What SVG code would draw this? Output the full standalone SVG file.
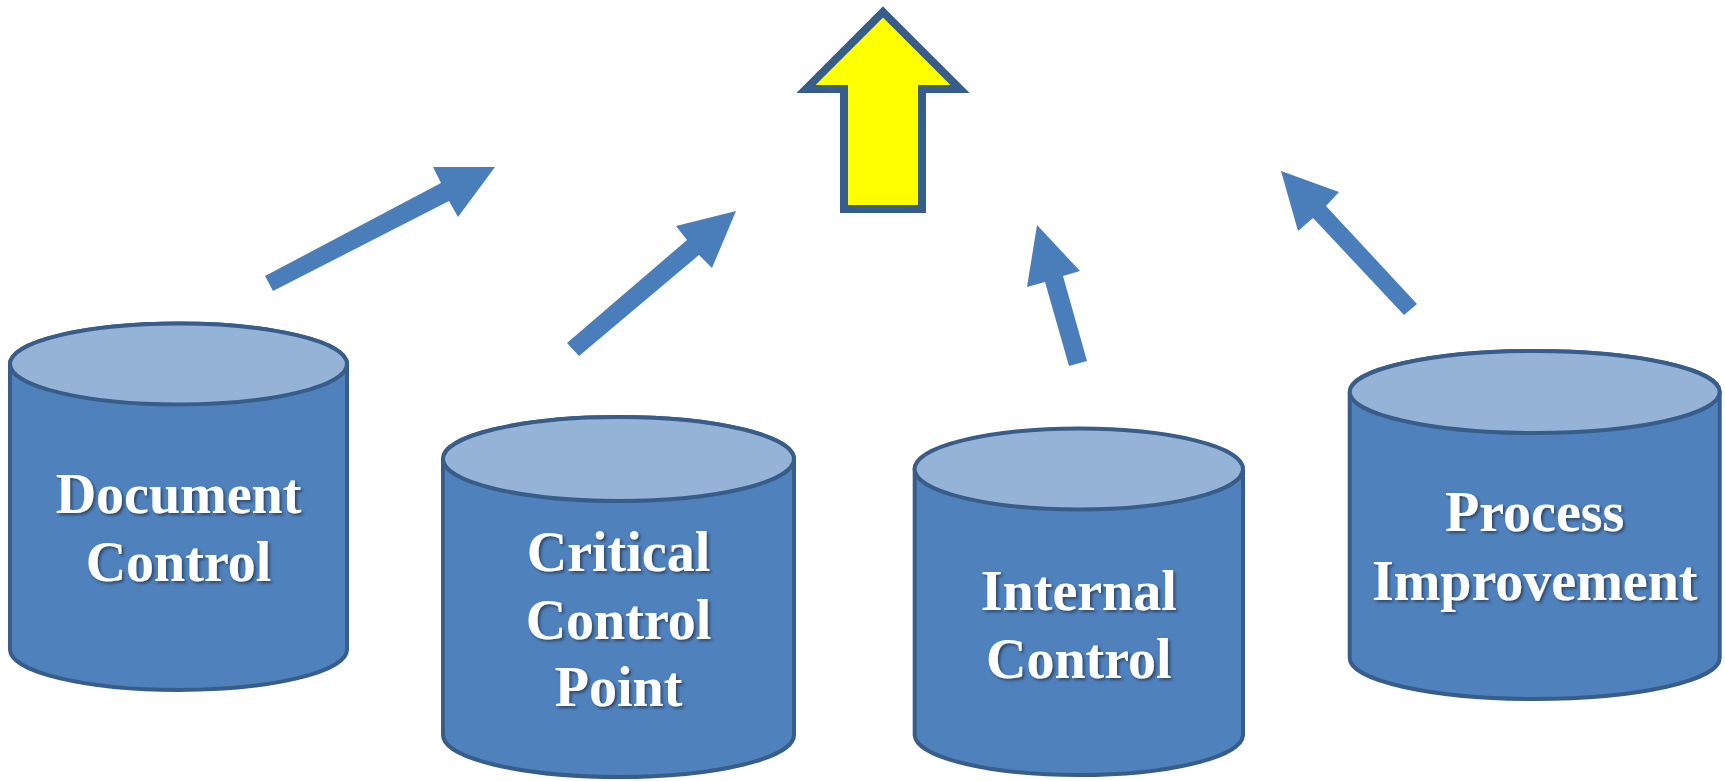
<svg xmlns="http://www.w3.org/2000/svg" width="1725" height="781" viewBox="0 0 1725 781">
<defs>
<style>
.body{fill:#4F81BD;stroke:#385D8A;stroke-width:4}
.top{fill:#95B3D7;stroke:#385D8A;stroke-width:4}
.lbl{font-family:"Liberation Serif","Times New Roman",serif;font-weight:bold;font-size:56px;fill:#FFFFFF;text-anchor:middle}
.arr{fill:#4A7EBB}
</style>
<filter id="sh" x="-10%" y="-10%" width="120%" height="130%">
<feDropShadow dx="2" dy="2" stdDeviation="1.5" flood-color="#000" flood-opacity="0.45"/>
</filter>
</defs>
<rect width="1725" height="781" fill="#FFFFFF"/>
<g id="connectors">
<polygon class="arr" points="265,276 441,183 433,167 495,167 458,217 449,201 273,291"/>
<polygon class="arr" points="567,343 687,240 676,226 736,211 712,268 699,255 579,356"/>
<polygon class="arr" points="1069,366 1045,282 1027,287 1037,225 1080,271 1063,276 1087,361"/>
<polygon class="arr" points="1404,315 1313,218 1298,231 1281,171 1339,192 1326,206 1417,304"/>
</g>
<g id="goal">
<path d="M883,12 L960,89 L922,89 L922,209 L844,209 L844,89 L806,89 Z" fill="#FFFF00" stroke="#385D8A" stroke-width="8" stroke-linejoin="miter"/>
</g>
<g id="document-control">
<path class="body" d="M10,364 L10,649.5 A168.5,40.5 0 0 0 347,649.5 L347,364 A168.5,40.5 0 0 0 10,364 Z"/>
<ellipse class="top" cx="178.5" cy="364" rx="168.5" ry="40.5"/>
<g filter="url(#sh)">
<text class="lbl" x="178.5" y="513">Document</text>
<text class="lbl" x="178.5" y="581">Control</text>
</g>
</g>
<g id="critical-control-point">
<path class="body" d="M443,459 L443,735 A175.5,42 0 0 0 794,735 L794,459 A175.5,42 0 0 0 443,459 Z"/>
<ellipse class="top" cx="618.5" cy="459" rx="175.5" ry="42"/>
<g filter="url(#sh)">
<text class="lbl" x="618.5" y="571">Critical</text>
<text class="lbl" x="618.5" y="639">Control</text>
<text class="lbl" x="618.5" y="706">Point</text>
</g>
</g>
<g id="internal-control">
<path class="body" d="M914.7,469 L914.7,735.5 A164.2,40.5 0 0 0 1243,735.5 L1243,469 A164.2,40.5 0 0 0 914.7,469 Z"/>
<ellipse class="top" cx="1078.8" cy="469" rx="164.2" ry="40.5"/>
<g filter="url(#sh)">
<text class="lbl" x="1078.8" y="610">Internal</text>
<text class="lbl" x="1078.8" y="678">Control</text>
</g>
</g>
<g id="process-improvement">
<path class="body" d="M1349.7,392 L1349.7,658 A185,41 0 0 0 1719.7,658 L1719.7,392 A185,41 0 0 0 1349.7,392 Z"/>
<ellipse class="top" cx="1534.7" cy="392" rx="185" ry="41"/>
<g filter="url(#sh)">
<text class="lbl" x="1534.7" y="531">Process</text>
<text class="lbl" x="1534.7" y="600">Improvement</text>
</g>
</g>
</svg>
